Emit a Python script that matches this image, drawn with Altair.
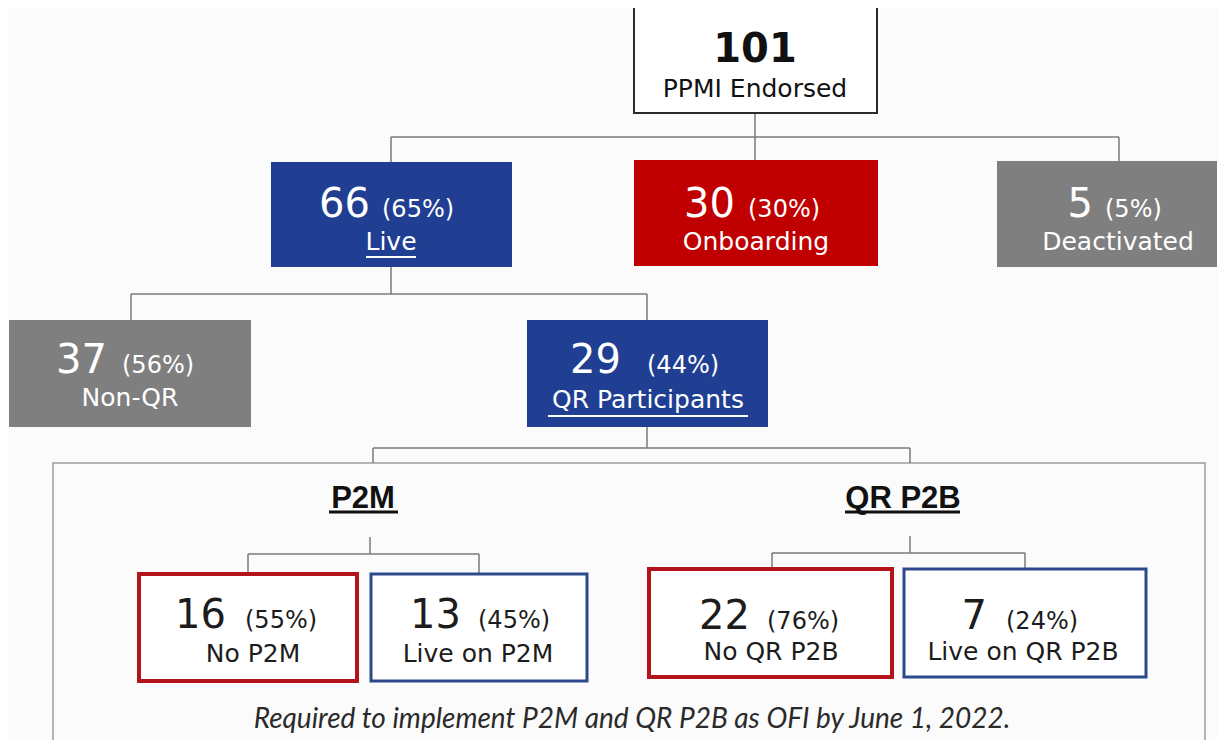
import altair as alt
import pandas as pd

# ---------------- data ----------------
node_labels = ["PPMI Endorsed", "Live", "Onboarding", "Deactivated", "Non-QR",
               "QR Participants", "No P2M", "Live on P2M", "No QR P2B", "Live on QR P2B"]
node_counts = [101, 66, 30, 5, 37, 29, 16, 13, 22, 7]
node_shares = [None, 65, 30, 5, 56, 44, 55, 45, 76, 24]
node_kinds = ["root", "blue", "red", "gray", "gray", "blue", "redline", "blueline", "redline", "blueline"]
headings = ["P2M", "QR P2B"]
footnote = "Required to implement P2M and QR P2B as OFI by June 1, 2022."

# ---------------- layout (reference pixel coordinates) ----------------
box_x0 = [634, 271, 634, 997, 9, 527, 139, 371, 649, 904]
box_x1 = [877, 512, 878, 1232, 251, 768, 357, 587, 892, 1146]
box_y0 = [6, 162, 160, 161, 320, 320, 574, 574, 569, 569]
box_y1 = [113, 267, 266, 267, 427, 427, 681, 681, 677, 677]
num_right = [755, 370, 735, 1093, 107, 621, 226, 461, 750, 987]
pct_left = [None, 382, 748, 1105, 122, 647, 245, 478, 767, 1006]
num_base = [62, 217, 217, 217, 373, 373, 628, 628, 629, 629]
lab_center = [755, 391, 756, 1118, 130, 648, 253, 478, 771, 1023]
lab_base = [97, 250, 250, 250, 406, 408, 662, 662, 660, 660]

container = dict(x0=53, x1=1205, y0=463, y1=800)

segments = [
    (755, 113, 755, 137), (391, 137, 1119, 137), (391, 137, 391, 162), (755, 137, 755, 160), (1119, 137, 1119, 161),
    (391, 267, 391, 294), (131, 294, 647, 294), (131, 294, 131, 320), (647, 294, 647, 320),
    (647, 427, 647, 448), (373, 448, 910, 448), (373, 448, 373, 463), (910, 448, 910, 463),
    (370, 537, 370, 554), (248, 554, 479, 554), (248, 554, 248, 574), (479, 554, 479, 574),
    (910, 536, 910, 553), (772, 553, 1025, 553), (772, 553, 772, 569), (1025, 553, 1025, 569),
]
underlines = [(366, 416, 257, 2, "#ffffff"), (548, 748, 416, 2, "#ffffff"),
              (329, 398, 512, 3, "#111111"), (845, 960, 512, 3, "#111111")]
heading_x = [363, 903]
heading_base = [508, 508]

styles = {
    "root": dict(fill="#ffffff", stroke="#2a2a2a", sw=2, tc="#111111"),
    "blue": dict(fill="#203f93", stroke="#203f93", sw=0, tc="#ffffff"),
    "red": dict(fill="#c00000", stroke="#c00000", sw=0, tc="#ffffff"),
    "gray": dict(fill="#7f7f7f", stroke="#7f7f7f", sw=0, tc="#ffffff"),
    "redline": dict(fill="#ffffff", stroke="#b3141c", sw=4, tc="#1c1c1c"),
    "blueline": dict(fill="#ffffff", stroke="#2c4a8b", sw=3, tc="#1c1c1c"),
}

# ---------------- tables ----------------
boxes = pd.DataFrame({
    "x0": box_x0, "x1": box_x1, "y0": box_y0, "y1": box_y1,
    "fill": [styles[k]["fill"] for k in node_kinds],
    "stroke": [styles[k]["stroke"] for k in node_kinds],
    "sw": [styles[k]["sw"] for k in node_kinds],
})
cont = pd.DataFrame([container])
segs = pd.DataFrame(segments, columns=["x0", "y0", "x1", "y1"])
ul = pd.DataFrame(underlines, columns=["x0", "x1", "y", "w", "c"])

nums = pd.DataFrame({
    "x": num_right[1:], "y": num_base[1:], "t": [str(v) for v in node_counts[1:]],
    "tc": [styles[k]["tc"] for k in node_kinds[1:]],
})
pcts = pd.DataFrame({
    "x": pct_left[1:], "y": num_base[1:], "t": [f"({v}%)" for v in node_shares[1:]],
    "tc": [styles[k]["tc"] for k in node_kinds[1:]],
})
labs = pd.DataFrame({
    "x": lab_center, "y": lab_base, "t": node_labels,
    "tc": [styles[k]["tc"] for k in node_kinds],
})
root = pd.DataFrame({"x": [num_right[0]], "y": [num_base[0]], "t": [str(node_counts[0])]})
heads = pd.DataFrame({"x": heading_x, "y": heading_base, "t": headings})
foot = pd.DataFrame({"x": [632], "y": [728], "t": [footnote]})

xs = alt.Scale(domain=[8, 1217], nice=False, zero=False)
ys = alt.Scale(domain=[8, 740], nice=False, zero=False, reverse=True)
FONT = "DejaVu Sans"


def X(f):
    return alt.X(f"{f}:Q", scale=xs, axis=None)


def Y(f):
    return alt.Y(f"{f}:Q", scale=ys, axis=None)


cont_layer = alt.Chart(cont).mark_rect(fill="transparent", stroke="#9c9c9c", strokeWidth=1.5).encode(
    x=X("x0"), x2="x1", y=Y("y0"), y2="y1")

seg_layer = alt.Chart(segs).mark_rule(color="#7a7a7a", strokeWidth=1.5).encode(
    x=X("x0"), x2="x1", y=Y("y0"), y2="y1")

box_layer = alt.Chart(boxes).mark_rect().encode(
    x=X("x0"), x2="x1", y=Y("y0"), y2="y1",
    fill=alt.Fill("fill:N", scale=None),
    stroke=alt.Stroke("stroke:N", scale=None),
    strokeWidth=alt.StrokeWidth("sw:Q", scale=None),
)

ul_layer = alt.Chart(ul).mark_rule().encode(
    x=X("x0"), x2="x1", y=Y("y"),
    color=alt.Color("c:N", scale=None),
    strokeWidth=alt.StrokeWidth("w:Q", scale=None),
)

num_layer = alt.Chart(nums).mark_text(align="right", baseline="alphabetic", font=FONT, fontSize=40).encode(
    x=X("x"), y=Y("y"), text="t:N", color=alt.Color("tc:N", scale=None))

pct_layer = alt.Chart(pcts).mark_text(align="left", baseline="alphabetic", font=FONT, fontSize=24).encode(
    x=X("x"), y=Y("y"), text="t:N", color=alt.Color("tc:N", scale=None))

lab_layer = alt.Chart(labs).mark_text(align="center", baseline="alphabetic", font=FONT, fontSize=25).encode(
    x=X("x"), y=Y("y"), text="t:N", color=alt.Color("tc:N", scale=None))

root_layer = alt.Chart(root).mark_text(align="center", baseline="alphabetic", font=FONT, fontSize=40,
                                       fontWeight="bold", color="#111111").encode(
    x=X("x"), y=Y("y"), text="t:N")

head_layer = alt.Chart(heads).mark_text(align="center", baseline="alphabetic", font="Liberation Sans",
                                        fontSize=31, fontWeight="bold", color="#111111").encode(
    x=X("x"), y=Y("y"), text="t:N")

foot_layer = alt.Chart(foot).mark_text(align="center", baseline="alphabetic", font="Lato", fontSize=28,
                                       fontStyle="italic", color="#2a2a2a").encode(
    x=X("x"), y=Y("y"), text="t:N")

chart = alt.layer(
    cont_layer, seg_layer, box_layer, ul_layer, num_layer, pct_layer, lab_layer,
    root_layer, head_layer, foot_layer,
).properties(
    width=1209, height=732, padding=0,
    autosize=alt.AutoSizeParams(type="none"),
    background="#fbfbfb",
).configure_view(stroke=None)

chart.save("out.html", embed_options={"renderer": "svg", "actions": False})
